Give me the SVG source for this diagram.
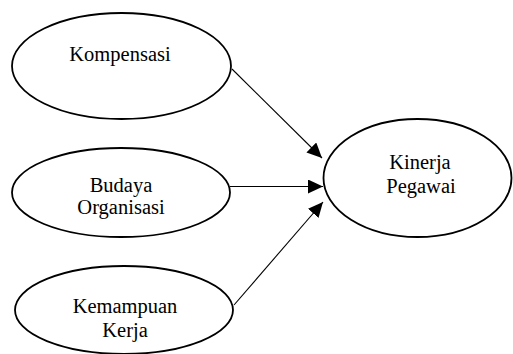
<svg xmlns="http://www.w3.org/2000/svg" width="513" height="354" viewBox="0 0 513 354">
<style>
.node ellipse{fill:#fff;stroke:#000;stroke-width:1.8}
.node text{font-family:'Liberation Serif','Times New Roman','DejaVu Serif',serif;font-size:20.5px;fill:#000;text-anchor:middle}
.conn line{stroke:#000;stroke-width:1.1;marker-end:url(#ah)}
</style>
<defs>
<marker id="ah" markerUnits="userSpaceOnUse" markerWidth="16" markerHeight="14" refX="15" refY="7" orient="auto">
<path d="M0,0 L15,7 L0,14 z" fill="#000"/>
</marker>
</defs>
<rect width="513" height="354" fill="#fff"/>
<g id="kompensasi" class="node">
<ellipse cx="121.5" cy="66" rx="109.5" ry="53"/>
<text x="120" y="61" font-family="Liberation Serif, serif">Kompensasi</text>
</g>
<g id="budaya" class="node">
<ellipse cx="121" cy="192.5" rx="109" ry="44.5"/>
<text x="121" y="192" font-family="Liberation Serif, serif">Budaya</text>
<text x="121" y="214" font-family="Liberation Serif, serif">Organisasi</text>
</g>
<g id="kemampuan" class="node">
<ellipse cx="124" cy="310" rx="109" ry="44"/>
<text x="125" y="313" font-family="Liberation Serif, serif">Kemampuan</text>
<text x="125" y="337" font-family="Liberation Serif, serif">Kerja</text>
</g>
<g id="kinerja" class="node">
<ellipse cx="417.5" cy="178" rx="94" ry="59"/>
<text x="420" y="169" font-family="Liberation Serif, serif">Kinerja</text>
<text x="421" y="193" font-family="Liberation Serif, serif">Pegawai</text>
</g>
<g id="connectors" class="conn">
<line x1="232" y1="69" x2="322" y2="158"/>
<line x1="230" y1="186.5" x2="323" y2="186.5"/>
<line x1="234" y1="305" x2="323" y2="202"/>
</g>
</svg>
